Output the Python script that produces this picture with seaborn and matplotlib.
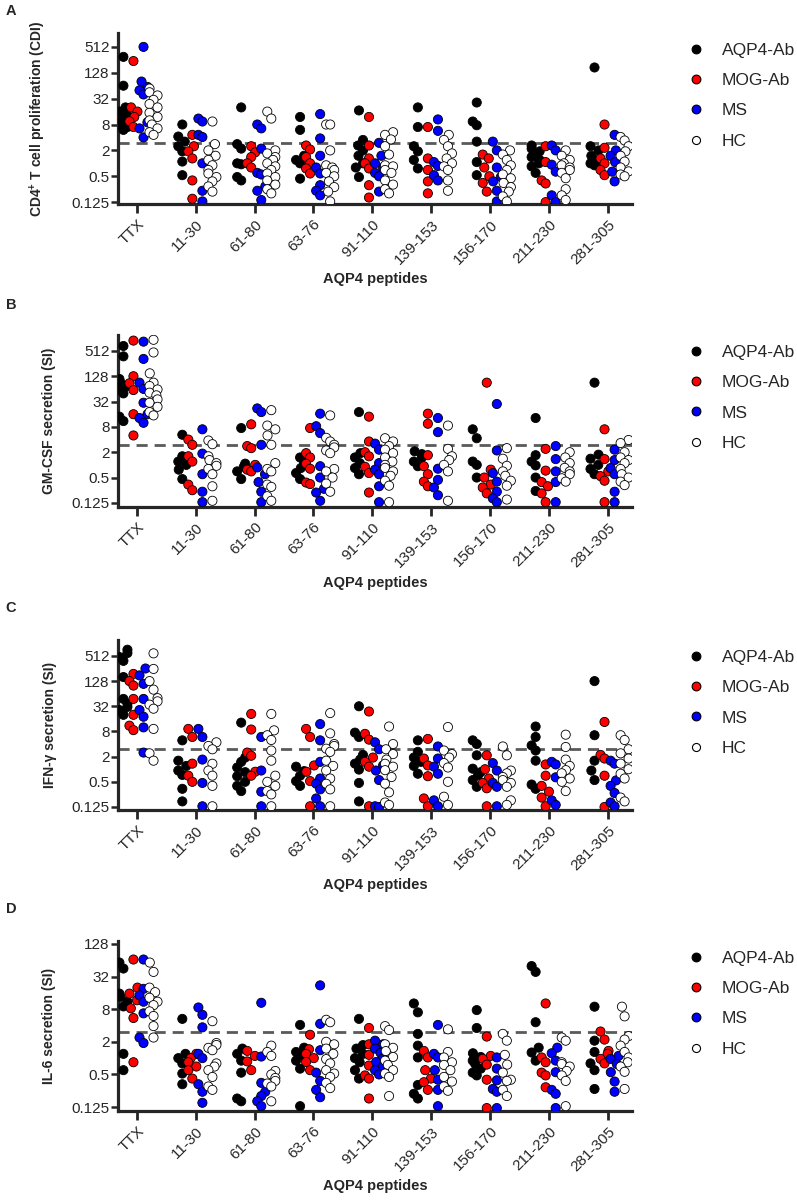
import numpy as np
import pandas as pd
import matplotlib
matplotlib.use("Agg")
import matplotlib.pyplot as plt
import seaborn as sns
from matplotlib.lines import Line2D
from matplotlib.ticker import NullLocator

peptides = ["TTX", "11-30", "61-80", "63-76", "91-110", "139-153", "156-170", "211-230", "281-305"]
groups = ["AQP4-Ab", "MOG-Ab", "MS", "HC"]

# ---- panel A: CD4+ T cell proliferation (CDI) ----
a_aqp4 = [[300, 64, 20, 16, 13, 11, 9, 8, 7, 6],
          [8, 4.2, 3.2, 2.5, 1.9, 1.1, 0.53],
          [20, 2.8, 2.2, 1.0, 0.95, 0.48, 0.4],
          [12, 6, 1.5, 1.2, 1.0, 0.44],
          [17, 3.5, 2.6, 2.0, 1.5, 1.0, 0.8, 0.48],
          [20, 7, 2.5, 1.9, 1.2, 0.76],
          [26, 9.4, 7.7, 3.2, 1.07, 0.53],
          [2.6, 2.2, 1.9, 1.6, 1.4, 1.2, 1.0, 0.85, 0.6],
          [170, 2.5, 2.0, 1.5, 1.2, 1.0, 0.9]]
a_mog = [[240, 20, 16, 12, 9.5, 7],
         [4.6, 2.5, 1.9, 1.3, 0.4, 0.15],
         [2.5, 1.8, 1.4, 1.0, 0.8],
         [2.6, 2.1, 1.4, 1.0, 0.76, 0.58],
         [12, 2.6, 1.3, 1.0, 0.76, 0.31, 0.16],
         [7, 1.3, 0.7, 0.38, 0.2],
         [1.6, 1.3, 0.8, 0.5, 0.35, 0.22],
         [2.5, 1.07, 0.4, 0.34, 0.125],
         [8, 2.3, 1.3, 1.0, 0.7, 0.53]]
a_ms = [[512, 80, 60, 50, 40, 9, 6.5, 4],
        [11, 9.4, 4.6, 4.1, 1.0, 0.23, 0.13],
        [8, 6.5, 2.2, 0.6, 0.55, 0.29, 0.23, 0.14],
        [14, 3.8, 1.5, 0.8, 0.58, 0.31, 0.23, 0.18],
        [3.0, 1.5, 1.0, 0.8, 0.6, 0.5, 0.22],
        [10.5, 5.7, 1.07, 0.87, 0.53, 0.4],
        [3.2, 2.0, 0.8, 0.48, 0.38, 0.23, 0.13],
        [2.6, 2.0, 0.93, 0.64, 0.18, 0.125],
        [4.6, 2.0, 1.5, 1.07, 0.64, 0.38]]
a_hc = [[55, 45, 38, 30, 24, 20, 15, 12, 10, 8, 6.5, 5.3, 4.6],
        [9.4, 2.8, 2.0, 1.5, 1.2, 0.9, 0.7, 0.58, 0.48, 0.38, 0.29, 0.22],
        [16, 11, 2.0, 1.7, 1.4, 1.2, 1.0, 0.85, 0.7, 0.58, 0.48, 0.4, 0.32, 0.25, 0.2],
        [8, 8, 2.0, 0.9, 0.8, 0.7, 0.6, 0.5, 0.38, 0.28, 0.22, 0.13],
        [5.3, 4.6, 3.6, 2.5, 1.6, 0.9, 0.85, 0.7, 0.6, 0.4, 0.32, 0.25, 0.2],
        [4.6, 3.5, 2.5, 1.7, 1.3, 1.0, 0.85, 0.7, 0.4, 0.23],
        [2.0, 1.6, 1.2, 0.9, 0.7, 0.55, 0.45, 0.35, 0.28, 0.22, 0.17, 0.13],
        [2.0, 1.5, 1.2, 1.0, 0.9, 0.8, 0.7, 0.6, 0.45, 0.25, 0.18, 0.14],
        [4.1, 3.4, 2.5, 1.9, 1.5, 1.1, 0.8, 0.65, 0.55, 0.5]]

# ---- panel B: GM-CSF secretion (SI) ----
b_aqp4 = [[670, 380, 110, 90, 75, 60, 50, 14, 11],
          [5.2, 1.6, 1.2, 1.0, 0.77, 0.46],
          [7.5, 1.07, 0.9, 0.7, 0.46],
          [1.5, 1.1, 0.84, 0.64, 0.46],
          [18, 1.9, 1.5, 1.1, 0.84, 0.6],
          [2.1, 1.8, 1.5, 1.2, 0.93],
          [7, 4.3, 1.2, 1.0, 0.5],
          [13, 1.7, 1.2, 0.97, 0.5, 0.24],
          [90, 1.75, 1.4, 1.0, 0.8, 0.6]]
b_mog = [[900, 128, 87, 60, 16, 5],
         [4.0, 3.0, 1.6, 1.2, 0.34, 0.25],
         [9.2, 2.8, 2.5, 1.0, 0.77, 0.7],
         [7.5, 1.9, 1.5, 1.07, 0.81, 0.38, 0.35],
         [14, 3.6, 2.0, 1.6, 0.9, 0.64, 0.22],
         [16.5, 9.5, 1.7, 0.93, 0.6, 0.4, 0.31],
         [90, 0.77, 0.5, 0.34, 0.29, 0.21],
         [2.4, 0.73, 0.39, 0.31, 0.21, 0.13],
         [7, 1.37, 0.7, 0.54, 0.42, 0.13]]
b_ms = [[850, 330, 90, 64, 30, 16, 13, 10],
        [7, 1.85, 0.6, 0.23, 0.13],
        [22, 18, 3.0, 0.87, 0.6, 0.39, 0.23, 0.13],
        [16.5, 8.3, 5.7, 0.93, 0.5, 0.27, 0.22, 0.14],
        [3.2, 2.3, 1.1, 0.77, 0.6, 0.31, 0.13],
        [13, 6, 0.81, 0.44, 0.29, 0.19],
        [28, 2.2, 0.64, 0.4, 0.23, 0.16, 0.13],
        [2.8, 1.37, 0.7, 0.39, 0.13],
        [2.3, 1.3, 0.84, 0.6, 0.23, 0.13]]
b_hc = [[940, 470, 150, 90, 75, 62, 52, 45, 36, 30, 24, 18, 15],
        [3.8, 3.1, 1.6, 1.3, 1.1, 0.95, 0.8, 0.6, 0.31, 0.14],
        [20, 8.6, 7, 5, 3, 1.1, 0.8, 0.7, 0.34, 0.3, 0.18, 0.14],
        [15, 4.4, 3.6, 3.0, 2.6, 2.2, 1.9, 0.8, 0.7, 0.5, 0.36, 0.23],
        [4.3, 3.6, 2.8, 2.3, 1.9, 1.5, 1.2, 1.0, 0.85, 0.7, 0.55, 0.42, 0.32, 0.13],
        [8.6, 2.4, 1.6, 1.3, 1.0, 0.7, 0.14],
        [2.5, 1.4, 0.95, 0.7, 0.55, 0.42, 0.32, 0.15],
        [2.0, 1.5, 1.1, 0.85, 0.7, 0.6, 0.48, 0.4],
        [3.9, 3.3, 2.0, 1.5, 1.3, 1.1, 0.8, 0.6, 0.5, 0.4, 0.33]]

# ---- panel C: IFN-gamma secretion (SI) ----
c_aqp4 = [[720, 600, 480, 390, 160, 48, 37, 31, 26, 20],
          [4.9, 1.6, 1.2, 0.93, 0.73, 0.34, 0.17],
          [13, 1.9, 1.5, 1.1, 0.85, 0.68, 0.5, 0.4, 0.3],
          [1.15, 0.9, 0.7, 0.52, 0.4],
          [32, 7.5, 5.9, 2.2, 1.7, 1.36, 0.98, 0.47, 0.17],
          [4.9, 2.6, 1.9, 1.5, 1.2, 0.78],
          [4.9, 4.0, 2.15, 1.03, 0.85, 0.72, 0.55, 0.38],
          [10.5, 5.9, 3.7, 2.8, 1.6, 0.43, 0.34],
          [128, 6.5, 1.6, 0.93, 0.55]]
c_mog = [[190, 128, 100, 48, 20, 11, 8.6],
         [9.2, 5.9, 1.36, 0.7, 0.5],
         [21, 8.9, 2.5, 2.1, 0.87, 0.7],
         [9.2, 5.9, 1.23, 0.87, 0.52, 0.13],
         [24, 7, 5.1, 1.9, 1.5, 1.15, 0.13],
         [5.3, 1.8, 1.23, 0.68, 0.2, 0.13],
         [2.15, 1.0, 0.6, 0.47, 0.35, 0.13],
         [1.3, 0.7, 0.4, 0.29, 0.21, 0.13],
         [13.5, 2.2, 1.8, 0.7, 0.125]]
c_ms = [[256, 175, 110, 48, 26, 18, 10, 2.5],
        [9.2, 5.9, 1.7, 0.47, 0.13],
        [5.9, 0.93, 0.29, 0.13],
        [12, 4.9, 1.5, 0.6, 0.45, 0.33, 0.2, 0.13],
        [4.4, 3.0, 1.23, 0.93, 0.55, 0.13, 0.125],
        [3.5, 1.8, 1.15, 0.78, 0.18, 0.13],
        [1.4, 0.93, 0.47, 0.38, 0.13],
        [1.5, 1.3, 0.64, 0.18, 0.14],
        [1.6, 1.36, 0.54, 0.4, 0.27, 0.16, 0.13]]
c_hc = [[590, 250, 128, 80, 50, 42, 35, 28, 9.2, 2.4, 1.6],
        [4.4, 3.6, 3.0, 1.35, 0.93, 0.7, 0.4, 0.13],
        [21, 8.5, 6.5, 5, 2.8, 1.6, 0.7, 0.5, 0.4, 0.3, 0.25, 0.13],
        [22, 7.2, 4.0, 3.6, 3.1, 2.6, 1.6, 1.2, 0.93, 0.6, 0.45, 0.33, 0.13],
        [10.5, 4.0, 3.0, 2.3, 1.7, 1.35, 1.15, 0.95, 0.65, 0.45, 0.28, 0.16, 0.14],
        [10.2, 2.8, 2.3, 1.9, 1.4, 1.1, 0.5, 0.22, 0.14],
        [3.5, 2.15, 0.93, 0.8, 0.65, 0.55, 0.47, 0.38, 0.18, 0.14],
        [6.7, 3.4, 1.7, 1.2, 0.95, 0.8, 0.6, 0.5, 0.3],
        [6.5, 5.0, 3.0, 2.4, 1.8, 1.36, 1.0, 0.78, 0.6, 0.21, 0.17]]

# ---- panel D: IL-6 secretion (SI) ----
d_aqp4 = [[58, 45, 15.5, 13.5, 11, 9, 1.2, 0.6],
          [5.3, 1.2, 1.0, 0.8, 0.52, 0.33],
          [1.5, 1.2, 0.9, 0.54, 0.18, 0.16],
          [4.1, 1.56, 1.3, 1.1, 0.9, 0.64, 0.13],
          [5.3, 1.74, 1.5, 1.2, 1.0, 0.84, 0.6, 0.42],
          [10.2, 7, 2.8, 1.7, 1.03, 0.32, 0.22, 0.18],
          [7.7, 3.6, 1.23, 1.05, 0.9, 0.78, 0.64, 0.54, 0.48],
          [50, 39, 4.6, 1.56, 1.27, 0.9],
          [8.9, 2.1, 1.3, 0.8, 0.6, 0.27]]
d_mog = [[66, 20, 15.5, 11.7, 8.3, 5.5, 0.84],
         [1.2, 1.0, 0.84, 0.7, 0.6, 0.42],
         [1.36, 1.1, 0.87, 0.6],
         [2.7, 1.46, 1.2, 1.0, 0.85, 0.6],
         [3.6, 1.8, 1.15, 0.73, 0.48, 0.42, 0.18],
         [1.36, 1.03, 0.6, 0.42, 0.36, 0.26],
         [2.5, 1.1, 0.97, 0.76, 0.4, 0.12],
         [10.2, 1.03, 0.84, 0.54, 0.48, 0.29],
         [3.1, 2.2, 1.36, 1.2, 0.97, 0.8]]
d_ms = [[66, 19, 14.4, 11, 6.7, 2.4, 1.9],
        [8.6, 6.3, 3.7, 1.2, 1.0, 0.33, 0.24, 0.15],
        [10.5, 1.07, 0.35, 0.24, 0.2, 0.16, 0.13],
        [22, 4.3, 1.4, 0.54, 0.38, 0.26, 0.19],
        [2.1, 1.8, 1.5, 1.25, 1.0, 0.85, 0.7, 0.6, 0.5],
        [4.1, 1.2, 1.03, 0.6, 0.4, 0.26, 0.13],
        [1.03, 0.64, 0.39, 0.27, 0.24, 0.12],
        [1.56, 1.23, 0.9, 0.55, 0.26, 0.22, 0.12],
        [1.1, 0.97, 0.78, 0.55, 0.37, 0.24]]
d_hc = [[58, 39, 20, 16.5, 13, 11, 9.5, 7.3, 6, 3.9, 2.4],
        [4.8, 1.9, 1.75, 1.55, 1.4, 0.8, 0.7, 0.6, 0.45, 0.3, 0.26],
        [1.7, 1.3, 1.1, 0.58, 0.5, 0.43, 0.38, 0.34, 0.3, 0.16],
        [5.1, 4.6, 2.0, 1.8, 1.5, 1.2, 0.96, 0.8, 0.6, 0.52, 0.45, 0.35, 0.28],
        [3.9, 3.3, 1.8, 1.55, 1.35, 1.05, 0.9, 0.75, 0.6, 0.52, 0.45, 0.2],
        [3.4, 1.3, 1.03, 0.84, 0.75, 0.6, 0.45, 0.37, 0.3, 0.25],
        [2.8, 2.1, 1.15, 0.76, 0.54, 0.4, 0.38, 0.26, 0.2],
        [2.4, 2.1, 0.84, 0.78, 0.7, 0.58, 0.48, 0.38, 0.13],
        [8.9, 5.9, 2.55, 2.2, 1.7, 1.3, 1.03, 0.84, 0.7, 0.56, 0.27]]

cutoff = 3
ticks_main = [0.125, 0.5, 2, 8, 32, 128, 512]
ticks_il6 = [0.125, 0.5, 2, 8, 32, 128]

colors = {"AQP4-Ab": "#000000", "MOG-Ab": "#ff0000", "MS": "#0000ff", "HC": "#ffffff"}
# horizontal shift of each group inside a peptide column (GraphPad-like layout)
offsets = {"AQP4-Ab": -0.227, "MOG-Ab": -0.057, "MS": 0.114, "HC": 0.284}

panels = [
    ("A", r"CD4$^{\mathbf{+}}$ T cell proliferation (CDI)", [a_aqp4, a_mog, a_ms, a_hc],
     ticks_main, (0.113, 1080), [0.148, 0.8304, 0.645, 0.1422], -0.136),
    ("B", "GM-CSF secretion (SI)", [b_aqp4, b_mog, b_ms, b_hc],
     ticks_main, (0.100, 1220), [0.148, 0.5786, 0.645, 0.1429], -0.12),
    ("C", "IFN-γ secretion (SI)", [c_aqp4, c_mog, c_ms, c_hc],
     ticks_main, (0.106, 1230), [0.148, 0.3267, 0.645, 0.1413], -0.118),
    ("D", "IL-6 secretion (SI)", [d_aqp4, d_mog, d_ms, d_hc],
     ticks_il6, (0.106, 145), [0.148, 0.0765, 0.645, 0.1413], -0.12),
]
letter_y = [11, 305, 608, 909]


def long_frame(series):
    rows = []
    for g, per_pep in zip(groups, series):
        for i, vals in enumerate(per_pep):
            for v in vals:
                rows.append({"pos": i + offsets[g], "group": g, "value": v})
    return pd.DataFrame(rows)


sns.set_style("ticks")
plt.rcParams["font.family"] = ["Liberation Sans", "DejaVu Sans"]
plt.rcParams["mathtext.fontset"] = "custom"
plt.rcParams["mathtext.rm"] = "Liberation Sans"
plt.rcParams["mathtext.bf"] = "Liberation Sans:bold"

fig = plt.figure(figsize=(7.97, 12.03), dpi=100)

for (letter, ylabel, series, yt, ylim, rect, ylab_x), ly in zip(panels, letter_y):
    ax = fig.add_axes(rect)
    df = long_frame(series)
    ax.set_yscale("log", base=2)
    ax.set_xlim(-0.32, 8.41)
    ax.set_ylim(*ylim)
    ax.axhline(cutoff, color="#5a5a5a", lw=2.0, ls=(0, (4, 2.5)), zorder=1)
    sns.swarmplot(data=df, x="pos", y="value", hue="group", hue_order=groups,
                  palette=colors, native_scale=True, size=6.6, edgecolor="black",
                  linewidth=0.6, legend=False, warn_thresh=1.0, ax=ax, zorder=3)
    ax.set_yscale("log", base=2)
    ax.set_xlim(-0.32, 8.41)
    ax.set_ylim(*ylim)
    ax.set_yticks(yt)
    ax.set_yticklabels([f"{t:g}" for t in yt])
    ax.yaxis.set_minor_locator(NullLocator())
    ax.set_xticks(np.arange(len(peptides)))
    ax.set_xticklabels(peptides, rotation=45, ha="right", rotation_mode="anchor")
    ax.tick_params(axis="y", length=5, width=1.8, labelsize=11, pad=1)
    ax.tick_params(axis="x", length=6.5, width=2.0, labelsize=11, pad=3)
    for s in ["top", "right"]:
        ax.spines[s].set_visible(False)
    for s in ["left", "bottom"]:
        ax.spines[s].set_linewidth(2.3)
    ax.set_ylabel(ylabel, fontsize=10, fontweight="bold")
    ax.yaxis.set_label_coords(ylab_x, 0.5)
    ax.set_xlabel("AQP4 peptides", fontsize=10.5, fontweight="bold")
    ax.xaxis.set_label_coords(0.5, -0.40)

    handles = [Line2D([], [], marker="o", ls="", markerfacecolor=colors[g],
                      markeredgecolor="black", markeredgewidth=0.8,
                      markersize=6.3 if g != "HC" else 5.8, label=g) for g in groups]
    ax.legend(handles=handles, loc="upper left", bbox_to_anchor=(1.094, 0.985),
              borderaxespad=0, frameon=False, fontsize=12.5, handlelength=1.0,
              handletextpad=1.0, labelspacing=0.88)

    fig.text(0.007, 1 - ly / 1203, letter, fontsize=10.5, fontweight="bold", va="center")

fig.savefig("out.png", dpi=100)
